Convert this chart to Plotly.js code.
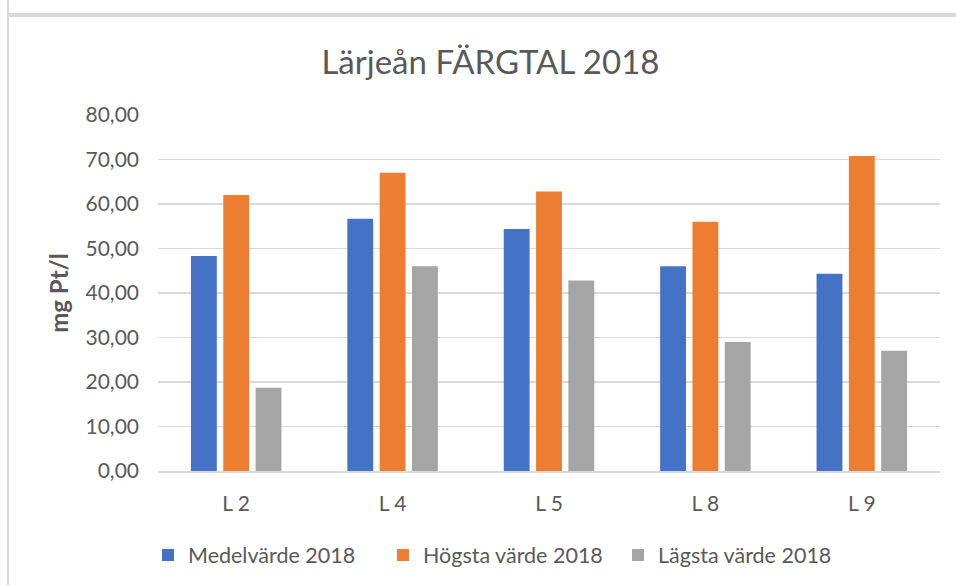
<!DOCTYPE html>
<html>
<head>
<meta charset="utf-8">
<script src="https://cdn.plot.ly/plotly-3.0.1.min.js"></script>
<style>
  html, body { margin: 0; padding: 0; background: #fff; }
  #wrap { position: relative; width: 956px; height: 585px; overflow: hidden; }
  #chart { position: absolute; left: 0; top: 0; width: 956px; height: 585px; }
  .frame-top { position: absolute; left: 7px; top: 13px; width: 949px; height: 4px; background: #d9d9d9; pointer-events: none; }
  .frame-left { position: absolute; left: 7px; top: 0; width: 2px; height: 585px; background: #d9d9d9; pointer-events: none; }
</style>
</head>
<body>
<div id="wrap">
  <div id="chart"></div>
  <div class="frame-top"></div>
  <div class="frame-left"></div>
</div>
<script>
// ---- data ----
const categories = ["L 2", "L 4", "L 5", "L 8", "L 9"];
const seriesNames = ["Medelvärde 2018", "Högsta värde 2018", "Lägsta värde 2018"];
const medelvarde = [48.3, 56.7, 54.4, 46.0, 44.3];
const hogstaVarde = [62.0, 67.0, 62.8, 56.0, 70.8];
const lagstaVarde = [18.7, 46.0, 42.8, 29.0, 27.0];
const yTickValues = [0, 10, 20, 30, 40, 50, 60, 70, 80];
const chartTitle = "Lärjeån FÄRGTAL 2018";
const yAxisTitle = "mg Pt/l";

const colors = ["#4472C4", "#ED7D31", "#A5A5A5"];
const seriesValues = [medelvarde, hogstaVarde, lagstaVarde];
const FONT = "Lato, 'Open Sans', sans-serif";
const TXT = "#595959";

const traces = seriesValues.map((vals, i) => ({
  type: "bar",
  name: seriesNames[i],
  x: categories,
  y: vals,
  marker: { color: colors[i], line: { width: 0 } },
  hoverinfo: "x+y+name"
}));

const layout = {
  width: 956,
  height: 585,
  paper_bgcolor: "#ffffff",
  plot_bgcolor: "#ffffff",
  separators: ", ",
  font: { family: FONT, color: TXT, size: 21 },
  title: {
    text: chartTitle,
    font: { family: FONT, size: 33, color: TXT },
    x: 0.513, xanchor: "center",
    y: 1 - 62 / 585, yanchor: "middle"
  },
  margin: { l: 158, r: 16, t: 115, b: 114, pad: 0 },
  barmode: "group",
  bargap: 0.38,
  bargroupgap: 0.2,
  xaxis: {
    type: "category",
    tickfont: { family: FONT, size: 21, color: TXT },
    showgrid: false,
    showline: true,
    linecolor: "#d9d9d9",
    linewidth: 2,
    ticks: "",
    ticklabelstandoff: 13,
    zeroline: false
  },
  yaxis: {
    range: [0, 80],
    tickvals: yTickValues,
    tickformat: ".2f",
    tickfont: { family: FONT, size: 21, color: TXT },
    showgrid: true,
    gridcolor: "#d9d9d9",
    gridwidth: 1.5,
    zeroline: false,
    showline: false,
    ticks: "",
    ticklabelstandoff: 18,
    title: {
      text: yAxisTitle,
      font: { family: FONT, size: 24, color: TXT, weight: "bold" },
      standoff: 10
    }
  },
  showlegend: true,
  legend: {
    orientation: "h",
    xref: "container",
    x: 148 / 956, xanchor: "left",
    yref: "container",
    y: 1 - 555 / 585, yanchor: "middle",
    font: { family: FONT, size: 21.5, color: TXT },
    bgcolor: "rgba(0,0,0,0)",
    entrywidth: 190,
    entrywidthmode: "pixels",
    traceorder: "normal"
  }
};

Plotly.newPlot("chart", traces, layout, { displayModeBar: false, staticPlot: true });
</script>
</body>
</html>
